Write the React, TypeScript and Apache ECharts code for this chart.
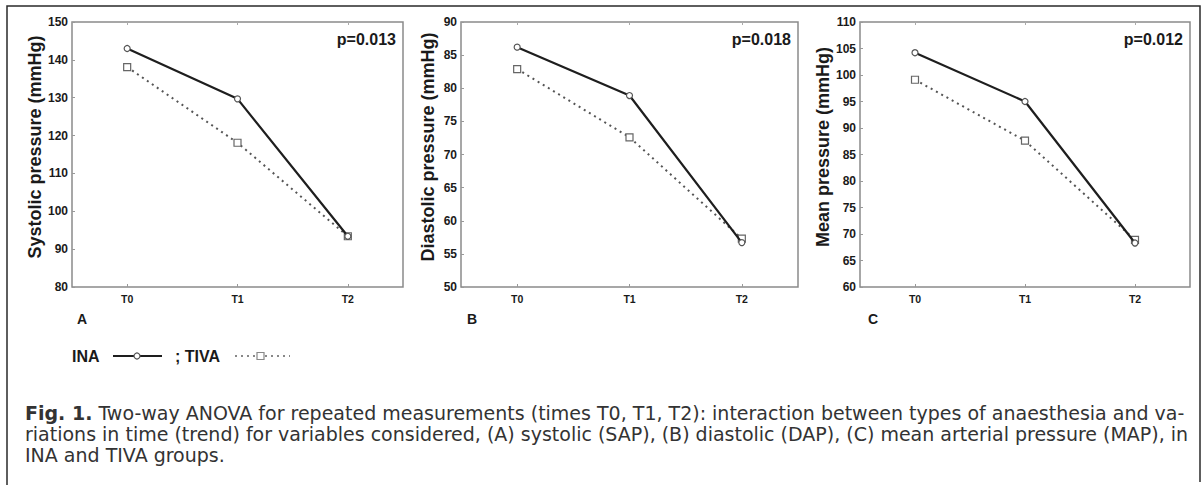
import React, { useEffect, useRef } from "react";
import * as echarts from "echarts";

const categories = ["T0", "T1", "T2"];
const systolicINA = [143, 129.7, 93.4];
const systolicTIVA = [138.1, 118.1, 93.4];
const diastolicINA = [86.2, 78.9, 56.7];
const diastolicTIVA = [82.9, 72.6, 57.3];
const meanINA = [104.2, 95.0, 68.3];
const meanTIVA = [99.1, 87.6, 68.9];
const panelNames = ["Systolic pressure (mmHg)", "Diastolic pressure (mmHg)", "Mean pressure (mmHg)"];
const pValues = ["p=0.013", "p=0.018", "p=0.012"];
const panelLetters = ["A", "B", "C"];
const yRanges = [
  { min: 80, max: 150, interval: 10 },
  { min: 50, max: 90, interval: 5 },
  { min: 60, max: 110, interval: 5 },
];
const captionLines = [
  "Two-way ANOVA for repeated measurements (times T0, T1, T2): interaction between types of anaesthesia and va-",
  "riations in time (trend) for variables considered, (A) systolic (SAP), (B) diastolic (DAP), (C) mean arterial pressure (MAP), in",
  "INA and TIVA groups.",
];

const W = 1203;
const H = 485;
const grids = [
  { left: 72, width: 331 },
  { left: 461, width: 337 },
  { left: 860, width: 330 },
];
const gridTop = 22;
const gridH = 265;
const FONT = "'Liberation Sans', Arial, sans-serif";

export default function App() {
  const ref = useRef<HTMLDivElement>(null);
  useEffect(() => {
    if (!ref.current) return;
    const chart = echarts.init(ref.current, undefined, { renderer: "svg" });
    const seriesData = [
      [systolicINA, systolicTIVA],
      [diastolicINA, diastolicTIVA],
      [meanINA, meanTIVA],
    ];
    const series: any[] = [];
    seriesData.forEach((pair, i) => {
      series.push({
        type: "line",
        name: "INA",
        xAxisIndex: i,
        yAxisIndex: i,
        data: pair[0],
        symbol: "circle",
        symbolSize: 6,
        lineStyle: { color: "#1e1e1e", width: 2.2 },
        itemStyle: { color: "#fff", borderColor: "#555", borderWidth: 1.2 },
        z: 3,
      });
      series.push({
        type: "line",
        name: "TIVA",
        xAxisIndex: i,
        yAxisIndex: i,
        data: pair[1],
        symbol: "rect",
        symbolSize: 7,
        lineStyle: { color: "#555", width: 2, type: [2, 4] },
        itemStyle: { color: "#fff", borderColor: "#666", borderWidth: 1.2 },
        z: 2,
      });
    });

    const graphic: any[] = [];
    // outer frame
    graphic.push({
      type: "polyline",
      shape: { points: [[7, 485], [7, 6], [1200, 6], [1200, 482]] },
      style: { stroke: "#2a2a2a", lineWidth: 1.5, fill: "none" },
      silent: true,
    });
    const nameX = [35, 428, 823];
    grids.forEach((g, i) => {
      graphic.push({
        type: "text",
        x: g.left + g.width - 7,
        y: 39,
        style: {
          text: pValues[i],
          font: `bold 16px ${FONT}`,
          fill: "#1a1a1a",
          textAlign: "right",
          textVerticalAlign: "middle",
        },
      });
      graphic.push({
        type: "text",
        x: nameX[i],
        y: 147,
        rotation: Math.PI / 2,
        style: {
          text: panelNames[i],
          font: `bold 18px ${FONT}`,
          fill: "#1a1a1a",
          textAlign: "center",
          textVerticalAlign: "middle",
        },
      });
    });
    const letterX = [77, 467, 868];
    letterX.forEach((x, i) => {
      graphic.push({
        type: "text",
        x,
        y: 319,
        style: {
          text: panelLetters[i],
          font: `bold 14px ${FONT}`,
          fill: "#1a1a1a",
          textAlign: "left",
          textVerticalAlign: "middle",
        },
      });
    });
    // legend
    const ly = 356;
    graphic.push({
      type: "text",
      x: 72,
      y: ly,
      style: { text: "INA", font: `bold 16px ${FONT}`, fill: "#1a1a1a", textVerticalAlign: "middle" },
    });
    graphic.push({
      type: "line",
      shape: { x1: 113, y1: ly, x2: 162, y2: ly },
      style: { stroke: "#1e1e1e", lineWidth: 2 },
    });
    graphic.push({
      type: "circle",
      shape: { cx: 137, cy: ly, r: 3 },
      style: { fill: "#fff", stroke: "#555", lineWidth: 1.2 },
    });
    graphic.push({
      type: "text",
      x: 175,
      y: ly,
      style: { text: "; TIVA", font: `bold 16px ${FONT}`, fill: "#1a1a1a", textVerticalAlign: "middle" },
    });
    graphic.push({
      type: "line",
      shape: { x1: 235, y1: ly, x2: 290, y2: ly },
      style: { stroke: "#888", lineWidth: 2, lineDash: [2, 4] },
    });
    graphic.push({
      type: "rect",
      shape: { x: 257, y: ly - 3.5, width: 7, height: 7 },
      style: { fill: "#fff", stroke: "#888", lineWidth: 1.2 },
    });
    // caption
    const capFont = "'DejaVu Sans', sans-serif";
    const capSize = 19;
    captionLines.forEach((line, i) => {
      const y = 413 + i * 21;
      if (i === 0) {
        graphic.push({
          type: "text",
          x: 25,
          y,
          style: {
            text: "{b|Fig. 1.} " + line,
            font: `${capSize}px ${capFont}`,
            fill: "#333",
            textVerticalAlign: "middle",
            rich: { b: { font: `bold ${capSize}px ${capFont}`, fill: "#333" } },
          },
        });
      } else {
        graphic.push({
          type: "text",
          x: 25,
          y,
          style: { text: line, font: `${capSize}px ${capFont}`, fill: "#333", textVerticalAlign: "middle" },
        });
      }
    });

    const xAxes: any[] = [];
    grids.forEach((_, i) => {
      xAxes.push({
        type: "category",
        gridIndex: i,
        data: categories,
        boundaryGap: true,
        axisLine: { show: false },
        axisTick: { show: true, alignWithLabel: true, inside: true, length: 3, lineStyle: { color: "#999" } },
        axisLabel: { fontFamily: FONT, fontWeight: "bold", fontSize: 10.5, color: "#1a1a1a", margin: 6 },
        splitLine: { show: false },
      });
    });
    grids.forEach((_, i) => {
      xAxes.push({
        type: "category",
        gridIndex: i,
        position: "top",
        data: categories,
        boundaryGap: true,
        axisLine: { show: false },
        axisTick: { show: true, alignWithLabel: true, inside: true, length: 3, lineStyle: { color: "#aaa" } },
        axisLabel: { show: false },
        splitLine: { show: false },
      });
    });

    chart.setOption({
      animation: false,
      backgroundColor: "#fff",
      grid: grids.map((g) => ({ left: g.left, width: g.width, top: gridTop, height: gridH, show: false })),
      xAxis: xAxes,
      yAxis: grids.map((_, i) => ({
        type: "value",
        gridIndex: i,
        min: yRanges[i].min,
        max: yRanges[i].max,
        interval: yRanges[i].interval,
        axisLine: { show: false },
        axisTick: { show: true, inside: true, length: 3, lineStyle: { color: "#999" } },
        axisLabel: { fontFamily: FONT, fontWeight: "bold", fontSize: 12, color: "#1a1a1a", margin: 4 },
        splitLine: { show: false },
      })),
      graphic: [
        ...grids.map((g) => ({
          type: "rect",
          shape: { x: g.left, y: gridTop, width: g.width, height: gridH },
          style: { fill: "none", stroke: "#8a8a8a", lineWidth: 1.5 },
          silent: true,
          z: 0,
        })),
        ...graphic,
      ],
      series,
    });
    return () => chart.dispose();
  }, []);
  return (
    <div
      ref={ref}
      style={{ position: "fixed", left: 0, top: 0, width: W, height: H, background: "#fff" }}
    />
  );
}
